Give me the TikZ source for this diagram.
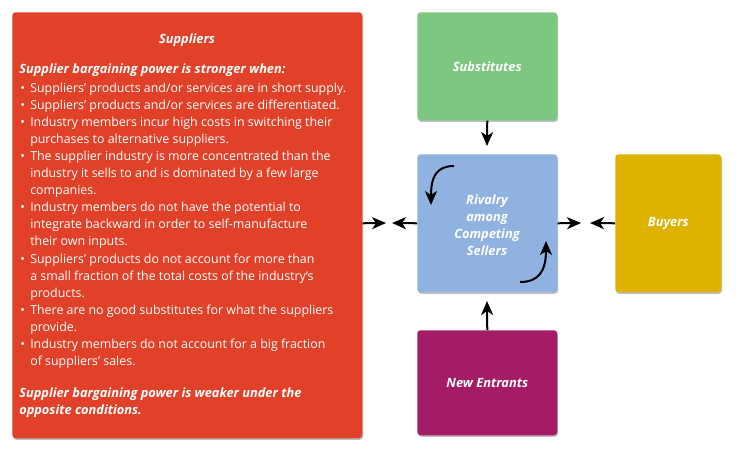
\documentclass[tikz,border=0pt]{standalone}
\usepackage{fontspec}
\setmainfont{Open Sans}
\usetikzlibrary{arrows.meta,shadows}
\definecolor{supc}{HTML}{E04128}
\definecolor{subc}{HTML}{7DC780}
\definecolor{rivc}{HTML}{8FB2E1}
\definecolor{buyc}{HTML}{DEB200}
\definecolor{newc}{HTML}{A31C65}
\newcommand\bul{\makebox[0pt][r]{\textbullet\hspace{4pt}}}
\begin{document}
\begin{tikzpicture}[x=0.75pt,y=-0.75pt,
  box/.style={draw=none, rounded corners=2.5pt, inner sep=0pt, anchor=north west,
    drop shadow={shadow xshift=0.6pt, shadow yshift=-1.2pt, opacity=0.25, fill=black}},
  lbl/.style={text=white, font=\bfseries\itshape\fontsize{9.6pt}{12.8pt}\selectfont, align=center, inner sep=0pt},
  hd/.style={text=white, font=\bfseries\itshape\fontsize{9.6pt}{12.8pt}\selectfont, anchor=base west, inner sep=0pt},
  body/.style={text=white, font=\fontsize{9.3pt}{12.8pt}\selectfont, anchor=base west, inner sep=0pt},
  arr/.style={line width=1.5pt, -{Stealth[length=10.5pt,width=9pt,inset=3pt]}}]
\useasboundingbox (0,0) rectangle (741,462);
\fill[white] (0,0) rectangle (741,462);
% boxes
\node[box, fill=supc, minimum width=262.5pt, minimum height=319.5pt] (sup) at (12,12) {};
\node[box, fill=subc, minimum width=105pt, minimum height=81pt] (sub) at (417,12) {};
\node[box, fill=rivc, minimum width=105pt, minimum height=103.5pt] (riv) at (417,154) {};
\node[box, fill=buyc, minimum width=79.5pt, minimum height=103.5pt] (buy) at (615,154) {};
\node[box, fill=newc, minimum width=105pt, minimum height=78.75pt] (new) at (417,330) {};
% labels
\node[lbl] (subt) at (sub.center) {Substitutes};
\node[lbl] (buyt) at (buy.center) {Buyers};
\node[lbl] (newt) at (new.center) {New Entrants};
\node[lbl] (rivt) at (487,225) {Rivalry\\among\\Competing\\Sellers};
% suppliers text
\node[lbl] (supt) at (187,40) {Suppliers};
\node[hd] (h1) at (19,73) {Supplier bargaining power is stronger when:};
\foreach \t [count=\i] in {
 {\bul Suppliers’ products and/or services are in short supply.},
 {\bul Suppliers’ products and/or services are differentiated.},
 {\bul Industry members incur high costs in switching their},
 {purchases to alternative suppliers.},
 {\bul The supplier industry is more concentrated than the},
 {industry it sells to and is dominated by a few large},
 {companies.},
 {\bul Industry members do not have the potential to},
 {integrate backward in order to self-manufacture},
 {their own inputs.},
 {\bul Suppliers’ products do not account for more than},
 {a small fraction of the total costs of the industry‘s},
 {products.},
 {\bul There are no good substitutes for what the suppliers},
 {provide.},
 {\bul Industry members do not account for a big fraction},
 {of suppliers’ sales.}}
 \node[body] (l\i) at (30,{92+17.1*(\i-1)}) {\t};
\node[hd] (h2) at (19,397) {Supplier bargaining power is weaker under the};
\node[hd] (h3) at (19,414) {opposite conditions.};
% connector ends
\coordinate (t1) at (386,223);
\coordinate (t2) at (392,223);
\coordinate (t3) at (581,223);
\coordinate (t4) at (590,223);
\coordinate (t5) at (487,146);
\coordinate (t6) at (487,301);
\draw[arr] (sup.east |- riv.west) -- (t1);
\draw[arr] (riv.west) -- (t2);
\draw[arr] (riv.east) -- (t3);
\draw[arr] (buy.west) -- (t4);
\draw[arr] (sub.south) -- (t5);
\draw[arr] (new.north) -- (t6);
% rivalry circular arrows
\coordinate (c1) at (454,166);
\coordinate (c2) at (431,205);
\coordinate (c3) at (520,282);
\coordinate (c4) at (546,241);
\draw[arr] (c1) .. controls (437,166) and (431,176) .. (c2);
\draw[arr] (c3) .. controls (538,282) and (546,272) .. (c4);
\end{tikzpicture}
\end{document}
